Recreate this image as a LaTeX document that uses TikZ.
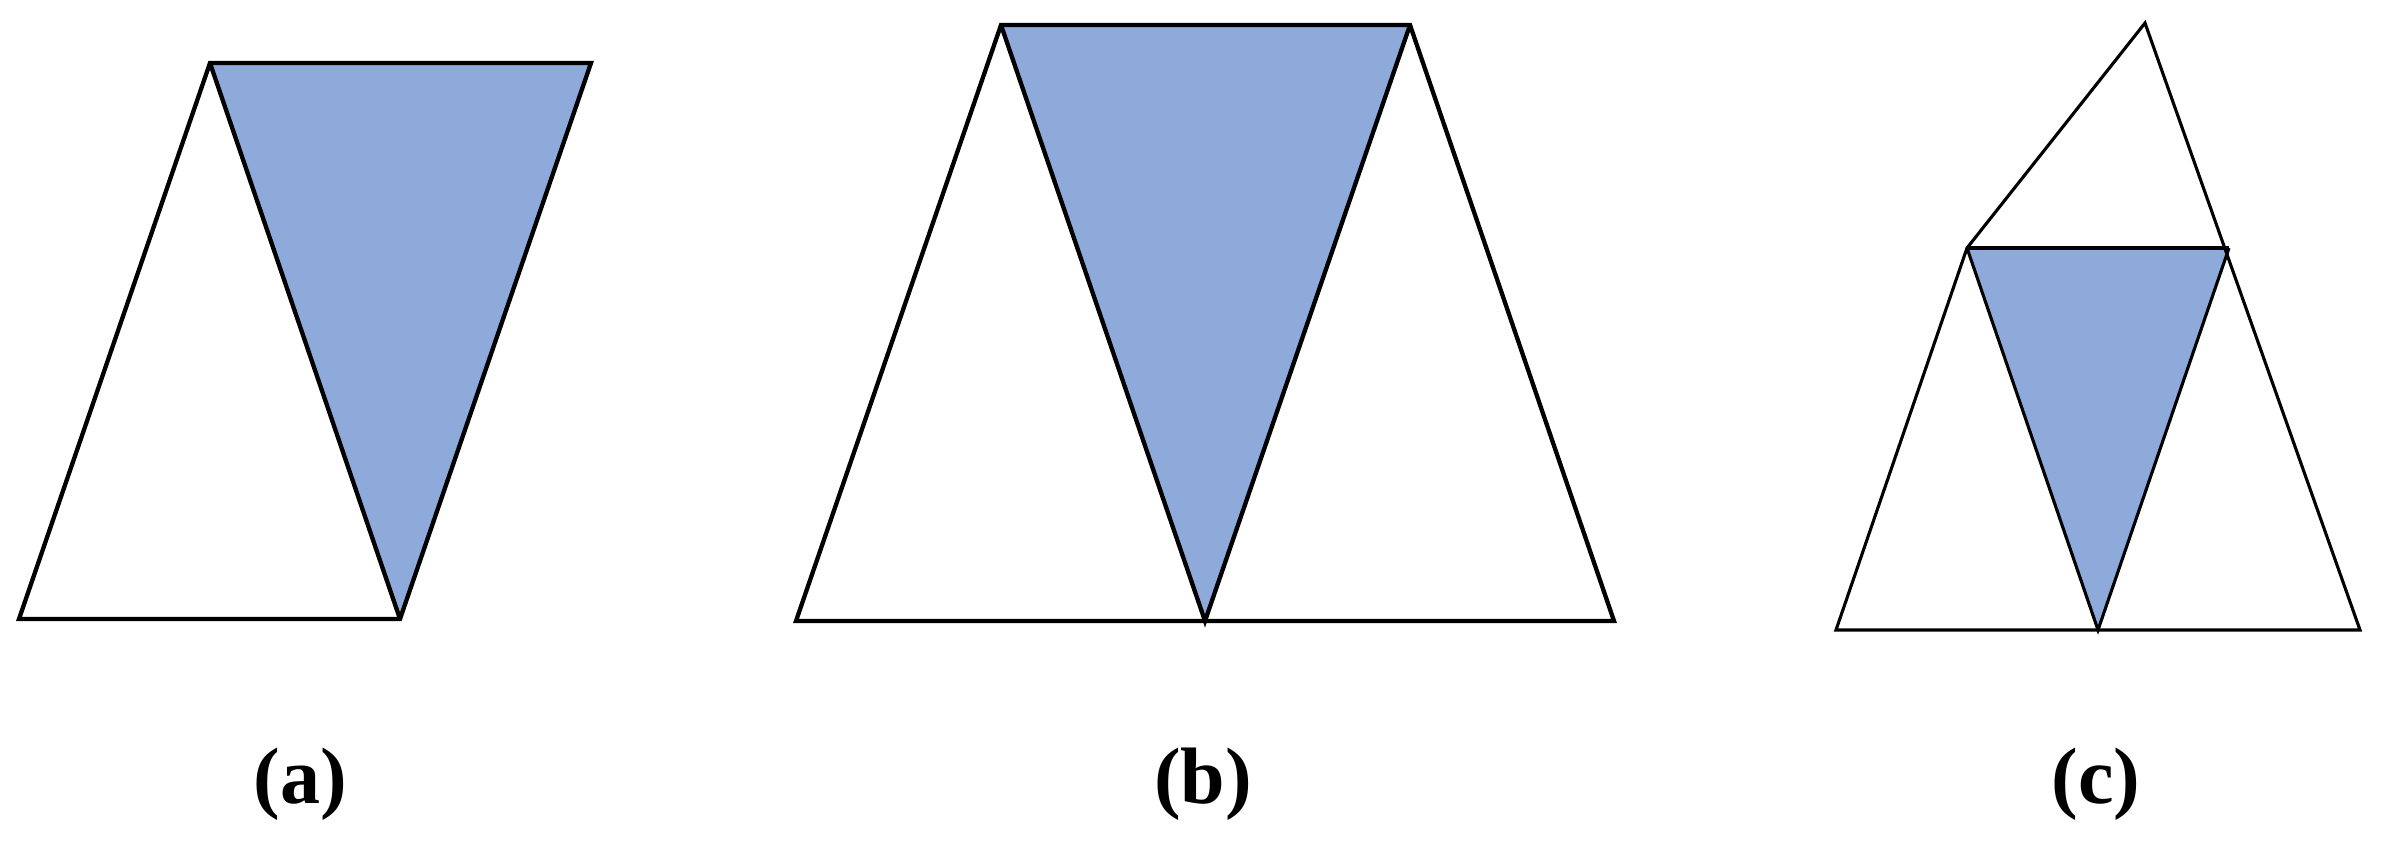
\documentclass[tikz,border=0pt]{standalone}
\usepackage{fontspec}
\setmainfont{Liberation Serif}
\definecolor{tribl}{RGB}{142,170,219}
\begin{document}
\begin{tikzpicture}[x=1pt,y=-1pt,
  edge/.style={draw=black,line width=4.3pt},
  thin edge/.style={draw=black,line width=3.1pt},
  blue/.style={fill=tribl},
  lbl/.style={anchor=base,inner sep=0pt,font=\fontsize{80}{84}\selectfont\bfseries}]
\useasboundingbox (0,0) rectangle (2386,843);
% (a)
\coordinate (aTL) at (210,63);
\coordinate (aTR) at (591,63);
\coordinate (aBL) at (19,619);
\coordinate (aBA) at (400,619);
\fill[blue] (aTL) -- (aTR) -- (aBA) -- cycle;
\draw[edge] (aBL) -- (aTL) -- (aTR) -- (aBA) -- cycle;
\draw[edge] (aTL) -- (aBA);
\node[lbl] (la) at (300,803) {(a)};
% (b)
\coordinate (bTL) at (1001,25);
\coordinate (bTR) at (1410,25);
\coordinate (bBL) at (796,621);
\coordinate (bBM) at (1205,621);
\coordinate (bBR) at (1614,621);
\fill[blue] (bTL) -- (bTR) -- (bBM) -- cycle;
\draw[edge] (bBL) -- (bTL) -- (bTR) -- (bBR) -- cycle;
\draw[edge] (bTL) -- (bBM) -- (bTR);
\node[lbl] (lb) at (1203,803) {(b)};
% (c)
\coordinate (cAP) at (2145,23);
\coordinate (cML) at (1967,248);
\coordinate (cMR) at (2229,248);
\coordinate (cBL) at (1836,630);
\coordinate (cBM) at (2098,630);
\coordinate (cBR) at (2360,630);
\fill[blue] (cML) -- (cMR) -- (cBM) -- cycle;
\draw[thin edge] (cBL) -- (cML) -- (cAP) -- (cBR) -- cycle;
\draw[thin edge] (cML) -- (cMR);
\draw[thin edge] (cML) -- (cBM) -- (cMR);
\node[lbl] (lc) at (2096,803) {(c)};
\end{tikzpicture}
\end{document}
